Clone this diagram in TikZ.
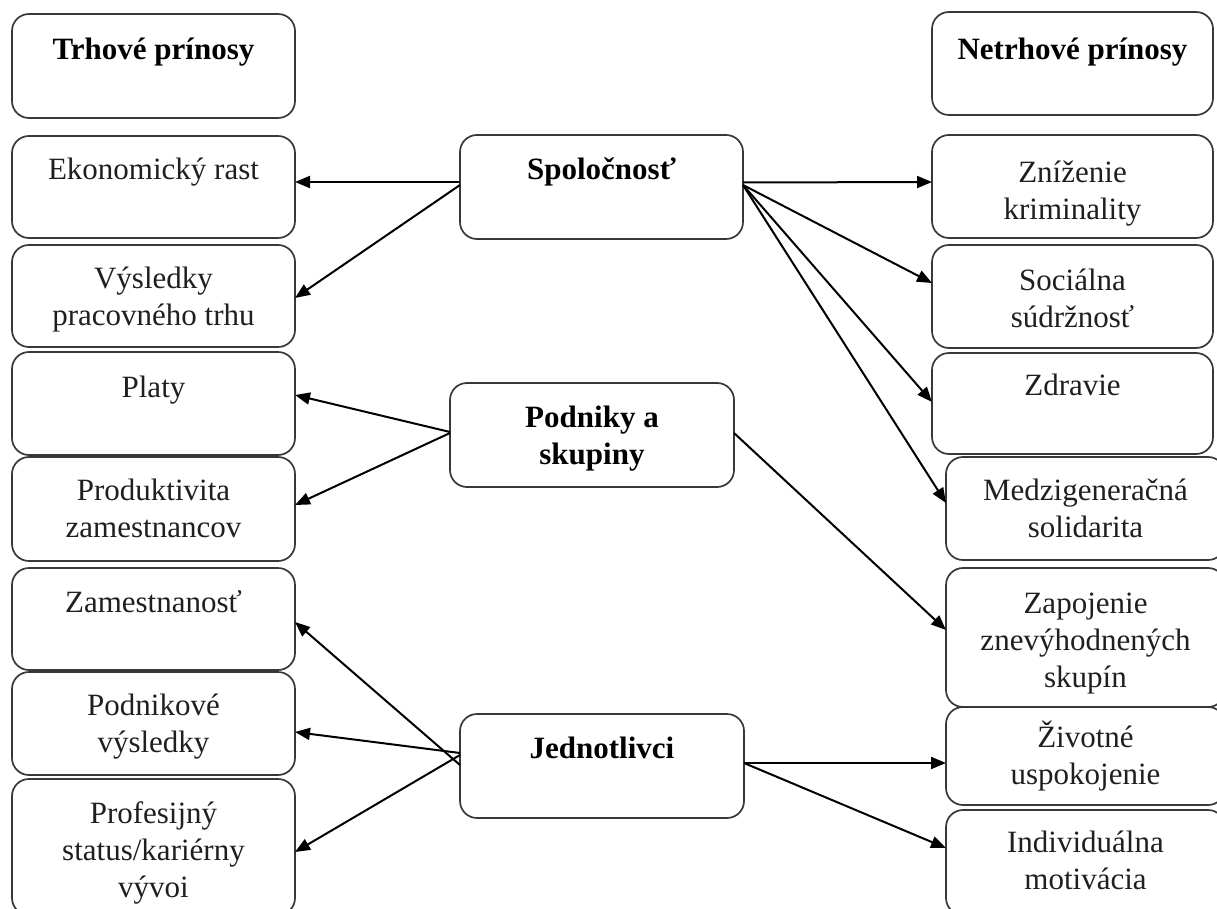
\documentclass[tikz,border=0pt]{standalone}
\usepackage{fontspec}
\setmainfont{Liberation Serif}
\usetikzlibrary{arrows.meta,calc}
\newcommand{\boxat}[5]{\node[bx, minimum width={(#4-#2)*1pt}, minimum height={(#5-#3)*1pt}] (#1) at ({(#2+#4)/2},{(#3+#5)/2}) {};}
\newcommand{\ml}[1]{\begin{tabular}[t]{@{}c@{}}#1\end{tabular}}
\begin{document}
\begin{tikzpicture}[x=1pt,y=-1pt,
  bx/.style={draw=black!78, line width=1.7pt, rounded corners=17pt, inner sep=0pt, outer sep=0pt},
  txt/.style={anchor=base, inner sep=0pt, text=black!88, font=\fontsize{31}{37}\selectfont},
  btxt/.style={anchor=base, inner sep=0pt, font=\fontsize{31}{37}\selectfont\bfseries},
  arr/.style={-{Triangle[length=15pt,width=12pt]}, line width=2pt}]
\useasboundingbox (0,0) rectangle (1217,909);
\clip (0,0) rectangle (1217,909);
% left column
\boxat{L0}{12}{14}{295}{118}
\boxat{L1}{12}{136}{295}{238}
\boxat{L2}{12}{245}{295}{347}
\boxat{L3}{12}{352}{295}{455}
\boxat{L4}{12}{457}{295}{561}
\boxat{L5}{12}{568}{295}{670}
\boxat{L6}{12}{672}{295}{775}
\boxat{L7}{12}{779}{295}{915}
\node[btxt] (L0t) at (153.5,60) {Trhové prínosy};
\node[txt] (L1t) at (153.5,180) {Ekonomický rast};
\node[txt] (L2t) at (153.5,288) {\ml{Výsledky\\pracovného trhu}};
\node[txt] (L3t) at (153.5,397) {Platy};
\node[txt] (L4t) at (153.5,500) {\ml{Produktivita\\zamestnancov}};
\node[txt] (L5t) at (153.5,612) {Zamestnanosť};
\node[txt] (L6t) at (153.5,715) {\ml{Podnikové\\výsledky}};
\node[txt] (L7t) at (153.5,823) {\ml{Profesijný\\status/kariérny\\vývoi}};
% right column
\boxat{R0}{932}{12}{1213}{115}
\boxat{R1}{932}{135}{1213}{238}
\boxat{R2}{932}{245}{1213}{348}
\boxat{R3}{932}{353}{1213}{454}
\boxat{R4}{946}{457}{1225}{560}
\boxat{R5}{946}{568}{1225}{707}
\boxat{R6}{946}{707}{1225}{805}
\boxat{R7}{946}{810}{1225}{915}
\node[btxt] (R0t) at (1072.5,60) {Netrhové prínosy};
\node[txt] (R1t) at (1072.5,183) {\ml{Zníženie\\kriminality}};
\node[txt] (R2t) at (1072.5,290) {\ml{Sociálna\\súdržnosť}};
\node[txt] (R3t) at (1072.5,395) {Zdravie};
\node[txt] (R4t) at (1085.5,500) {\ml{Medzigeneračná\\solidarita}};
\node[txt] (R5t) at (1085.5,613) {\ml{Zapojenie\\znevýhodnených\\skupín}};
\node[txt] (R6t) at (1085.5,747) {\ml{Životné\\uspokojenie}};
\node[txt] (R7t) at (1085.5,852) {\ml{Individuálna\\motivácia}};
% middle column
\boxat{soc}{460}{135}{743}{239}
\boxat{pod}{450}{383}{734}{487}
\boxat{jed}{460}{714}{744}{818}
\node[btxt] (soct) at (601.5,180) {Spoločnosť};
\node[btxt] (podt) at (592,427) {\ml{Podniky a\\skupiny}};
\node[btxt] (jedt) at (602,758) {Jednotlivci};
% arrows
\draw[arr] ($(soc.west)+(0,-5)$) -- ($(L1.east)+(0,-5)$);
\draw[arr] ($(soc.west)+(0,-2)$) -- ($(L2.east)+(0,2)$);
\draw[arr] ($(soc.east)+(0,-4.5)$) -- ($(R1.west)+(0,-4.5)$);
\draw[arr] ($(soc.east)+(0,-2)$) -- ($(R2.west)+(0,-13.5)$);
\draw[arr] ($(soc.east)+(0,-2)$) -- ($(R3.west)+(0,-1.5)$);
\draw[arr] ($(soc.east)+(0,-2)$) -- ($(R4.west)+(0,-5.5)$);
\draw[arr] ($(pod.west)+(0,-3)$) -- ($(L3.east)+(0,-8.5)$);
\draw[arr] ($(pod.west)+(0,-2)$) -- ($(L4.east)+(0,-4)$);
\draw[arr] ($(pod.east)+(0,-2)$) -- ($(R5.west)+(0,-7.5)$);
\draw[arr] ($(jed.west)+(0,-1)$) -- ($(L5.east)+(0,3)$);
\draw[arr] ($(jed.west)+(0,-13)$) -- ($(L6.east)+(0,8.5)$);
\draw[arr] ($(jed.west)+(0,-11)$) -- ($(L7.east)+(0,5)$);
\draw[arr] ($(jed.east)+(0,-3)$) -- ($(R6.west)+(0,7)$);
\draw[arr] ($(jed.east)+(0,-3)$) -- ($(R7.west)+(0,-14.5)$);
\end{tikzpicture}
\end{document}
